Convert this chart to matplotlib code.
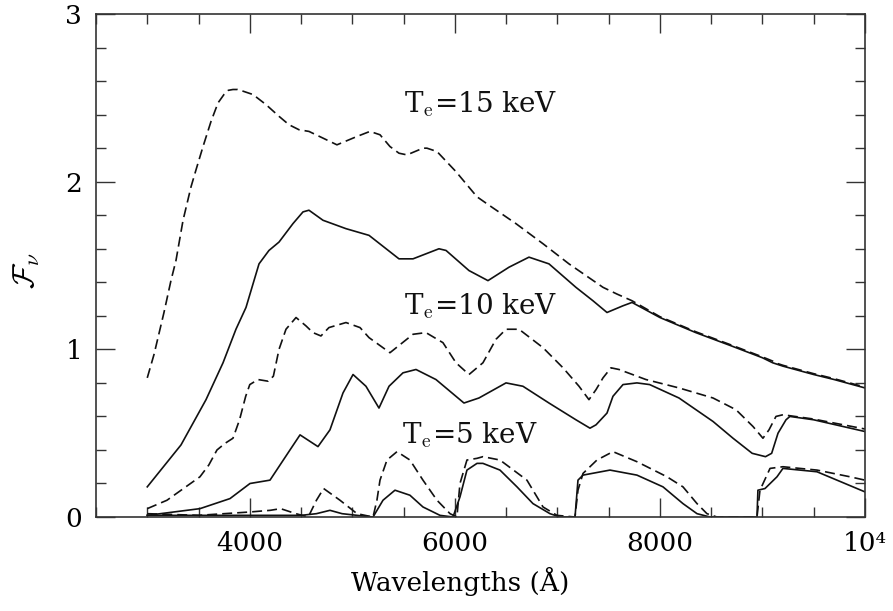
import numpy as np
import matplotlib
matplotlib.use("Agg")
import matplotlib.pyplot as plt
from matplotlib.ticker import MultipleLocator, FixedLocator, FixedFormatter

plt.rcParams['font.family'] = 'DejaVu Serif'
plt.rcParams['mathtext.fontset'] = 'cm'

# Te = 15 keV
x_d15 = [3000, 3066, 3163, 3231, 3280, 3349, 3427, 3475, 3544, 3622, 3690, 3748, 3790,
         3836, 3880, 3934, 4031, 4158, 4285, 4382, 4480, 4577, 4714, 4850, 5046, 5172,
         5270, 5367, 5455, 5533, 5689, 5728, 5826, 6011, 6216, 6333, 6596, 6860, 7113,
         7445, 7581, 7728, 8000, 8350, 8700, 9000, 9100, 9150, 9200, 9500, 9700, 10000]
y_d15 = [0.83, 0.97, 1.22, 1.41, 1.53, 1.77, 1.97, 2.07, 2.21, 2.36, 2.47, 2.52, 2.545,
         2.55, 2.55, 2.54, 2.52, 2.46, 2.39, 2.34, 2.31, 2.30, 2.26, 2.22, 2.27, 2.30,
         2.28, 2.21, 2.17, 2.16, 2.20, 2.20, 2.18, 2.06, 1.91, 1.86, 1.75, 1.63, 1.51,
         1.37, 1.33, 1.29, 1.195, 1.105, 1.025, 0.955, 0.93, 0.915, 0.905, 0.855, 0.825, 0.775]
x_s15 = [3000, 3329, 3573, 3739, 3865, 3963, 4041, 4090, 4187, 4285, 4421, 4519, 4577,
         4714, 4938, 5163, 5455, 5592, 5845, 5914, 6138, 6323, 6528, 6723, 6918, 7181,
         7347, 7484, 7640, 7728, 8000, 8350, 8700, 9000, 9100, 9150, 9200, 9500, 9700, 10000]
y_s15 = [0.18, 0.43, 0.70, 0.92, 1.12, 1.25, 1.41, 1.51, 1.59, 1.64, 1.75, 1.82, 1.83,
         1.77, 1.72, 1.68, 1.54, 1.54, 1.60, 1.59, 1.47, 1.41, 1.49, 1.55, 1.51, 1.37,
         1.29, 1.22, 1.26, 1.28, 1.19, 1.10, 1.02, 0.95, 0.92, 0.91, 0.90, 0.85, 0.82, 0.77]

# Te = 10 keV
x_d10 = [3000, 3192, 3514, 3600, 3680, 3760, 3836, 3900, 3960, 4000, 4080, 4180, 4230,
         4285, 4353, 4451, 4548, 4616, 4694, 4772, 4938, 5075, 5163, 5367, 5592, 5718,
         5884, 6011, 6138, 6274, 6401, 6499, 6626, 6860, 7055, 7211, 7308, 7377, 7445,
         7523, 7601, 7864, 8186, 8518, 8742, 8908, 9005, 9064, 9132, 9200, 9493, 10000]
y_d10 = [0.05, 0.10, 0.24, 0.31, 0.40, 0.44, 0.47, 0.58, 0.72, 0.79, 0.82, 0.81, 0.84,
         1.00, 1.12, 1.19, 1.14, 1.10, 1.08, 1.13, 1.16, 1.13, 1.07, 0.98, 1.09, 1.10,
         1.04, 0.92, 0.85, 0.92, 1.06, 1.12, 1.12, 1.01, 0.89, 0.78, 0.70, 0.76, 0.83,
         0.89, 0.88, 0.82, 0.77, 0.71, 0.64, 0.54, 0.47, 0.52, 0.60, 0.61, 0.585, 0.525]
x_s10 = [3000, 3514, 3807, 4002, 4197, 4392, 4490, 4665, 4782, 4909, 5007, 5133, 5260,
         5358, 5494, 5621, 5816, 6089, 6235, 6499, 6664, 6918, 7181, 7318, 7377, 7484,
         7542, 7640, 7776, 7900, 8186, 8518, 8713, 8900, 9030, 9090, 9152, 9230, 9268,
         9500, 10000]
y_s10 = [0.01, 0.05, 0.11, 0.20, 0.22, 0.40, 0.49, 0.42, 0.52, 0.74, 0.85, 0.78, 0.65,
         0.78, 0.86, 0.88, 0.82, 0.68, 0.71, 0.80, 0.78, 0.68, 0.58, 0.53, 0.55, 0.62,
         0.72, 0.79, 0.80, 0.79, 0.71, 0.57, 0.47, 0.38, 0.36, 0.38, 0.50, 0.58, 0.60,
         0.58, 0.51]

# Te = 5 keV
x_d5 = [3000, 3500, 4000, 4200, 4300, 4450, 4570, 4650, 4720, 4880, 5046, 5202, 5240,
        5270, 5338, 5436, 5562, 5689, 5826, 5953, 6020, 6050, 6118, 6216, 6274, 6440,
        6703, 6860, 6996, 7172, 7201, 7250, 7386, 7542, 7776, 8069, 8225, 8362, 8459,
        8557, 8947, 8976, 9074, 9200, 9532, 9854, 10000]
y_d5 = [0.02, 0.01, 0.03, 0.04, 0.05, 0.02, 0.00, 0.10, 0.17, 0.10, 0.02, 0.00, 0.10,
        0.22, 0.34, 0.39, 0.34, 0.22, 0.10, 0.02, 0.00, 0.20, 0.34, 0.35, 0.36, 0.34,
        0.22, 0.06, 0.01, 0.00, 0.16, 0.26, 0.34, 0.39, 0.33, 0.24, 0.18, 0.08, 0.02,
        0.00, 0.00, 0.16, 0.29, 0.30, 0.28, 0.24, 0.22]
x_s5 = [3000, 4500, 4650, 4782, 4900, 5046, 5202, 5299, 5416, 5562, 5689, 5855, 5982,
        6050, 6118, 6216, 6274, 6440, 6606, 6762, 6928, 7025, 7172, 7201, 7250, 7513,
        7776, 8030, 8225, 8362, 8489, 8947, 8956, 9025, 9142, 9200, 9532, 10000]
y_s5 = [0.01, 0.01, 0.02, 0.04, 0.02, 0.01, 0.00, 0.10, 0.16, 0.13, 0.06, 0.01, 0.00,
        0.12, 0.28, 0.32, 0.32, 0.28, 0.18, 0.08, 0.02, 0.00, 0.00, 0.22, 0.25, 0.28,
        0.25, 0.18, 0.08, 0.02, 0.00, 0.00, 0.16, 0.17, 0.24, 0.29, 0.27, 0.15]

labels = [r'T$_{\rm e}$=15 keV', r'T$_{\rm e}$=10 keV', r'T$_{\rm e}$=5 keV']
label_pos = [(5500, 2.46), (5500, 1.26), (5480, 0.49)]

fig = plt.figure(figsize=(8.93, 6.11), dpi=100)
ax = fig.add_axes([0.1075, 0.1538, 0.8611, 0.8232])

col = '#111111'
dash = (6, 3)
ax.plot(x_d15, y_d15, color=col, lw=1.2, dashes=dash)
ax.plot(x_s15, y_s15, color=col, lw=1.2)
ax.plot(x_d10, y_d10, color=col, lw=1.2, dashes=dash)
ax.plot(x_s10, y_s10, color=col, lw=1.2)
ax.plot(x_d5, y_d5, color=col, lw=1.2, dashes=dash)
ax.plot(x_s5, y_s5, color=col, lw=1.2)

for lab, (lx, ly) in zip(labels, label_pos):
    ax.text(lx, ly, lab, fontsize=20, ha='left', va='center', color=col)

ax.set_xlim(2500, 10000)
ax.set_ylim(0, 3)
ax.xaxis.set_major_locator(FixedLocator([4000, 6000, 8000, 10000]))
ax.xaxis.set_major_formatter(FixedFormatter(['4000', '6000', '8000', '10\u2074']))
ax.xaxis.set_minor_locator(MultipleLocator(500))
ax.yaxis.set_major_locator(MultipleLocator(1))
ax.yaxis.set_minor_locator(MultipleLocator(0.2))

ax.tick_params(which='both', direction='in', top=True, right=True, width=1.0,
               color='#333333', labelsize=19, pad=10)
ax.tick_params(which='major', length=14)
ax.tick_params(which='minor', length=7)
for s in ax.spines.values():
    s.set_linewidth(1.2)
    s.set_color('#333333')

ax.set_xlabel('Wavelengths (Å)', fontsize=19)
ax.xaxis.set_label_coords(0.473, -0.1)
ax.set_ylabel(r'$\mathcal{F}_\nu$', fontsize=22)
ax.yaxis.set_label_coords(-0.07, 0.49)

fig.savefig('out.png', dpi=100)
